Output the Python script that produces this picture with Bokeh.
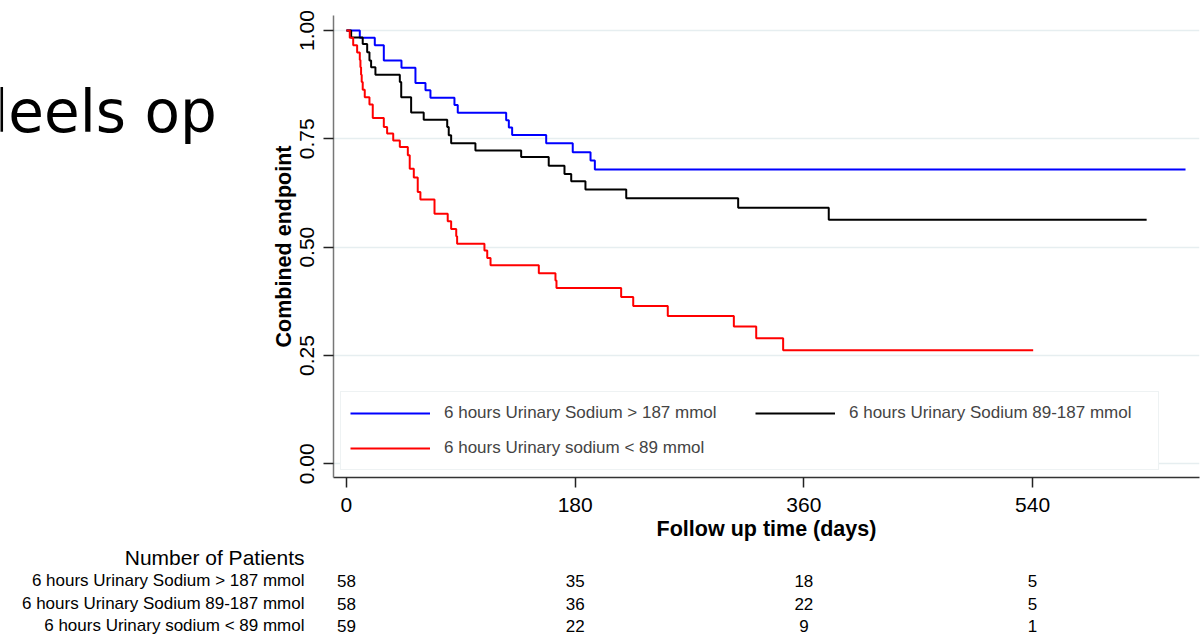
from bokeh.plotting import figure
from bokeh.layouts import column, row
from bokeh.models import (Range1d, FixedTicker, PrintfTickFormatter, Legend, LegendItem,
                          Label)
from bokeh.embed import file_html
from bokeh.resources import INLINE
from bokeh.core.properties import value

FONT = "Liberation Sans"

# Kaplan-Meier step data (days, survival)
blue_t = [0, 10.5, 22.3, 29.4, 43.3, 54.3, 62.2, 66.1, 85.0, 87.6, 125.7, 127.8, 130.4,
          157.2, 178.1, 192.1, 195.5, 660.4]
blue_s = [1.0, 0.983, 0.966, 0.931, 0.914, 0.879, 0.862, 0.845, 0.828, 0.810, 0.793, 0.776,
          0.759, 0.740, 0.719, 0.700, 0.679, 0.679]

black_t = [0, 3.7, 12.8, 16.3, 18.1, 19.4, 22.8, 42.0, 43.1, 50.9, 60.8, 79.3, 80.5, 82.4,
           101.5, 137.5, 159.2, 171.6, 176.9, 188.1, 220.2, 308.3, 379.6, 629.8]
black_s = [1.0, 0.984, 0.969, 0.950, 0.931, 0.915, 0.898, 0.881, 0.846, 0.811, 0.794, 0.777,
           0.758, 0.740, 0.723, 0.708, 0.688, 0.669, 0.652, 0.633, 0.613, 0.591, 0.563, 0.563]

red_t = [0, 2.6, 5.3, 8.4, 10.5, 11.0, 11.5, 12.0, 12.8, 14.4, 18.1, 20.7, 29.4, 32.0, 36.8,
         42.0, 48.3, 49.8, 53.0, 56.1, 58.2, 69.3, 79.7, 82.4, 86.4, 87.1, 108.6, 110.8,
         113.4, 151.4, 164.5, 165.3, 216.2, 225.7, 252.9, 304.9, 322.5, 343.7, 540.5]
red_s = [1.0, 0.983, 0.966, 0.949, 0.932, 0.915, 0.898, 0.881, 0.863, 0.846, 0.829, 0.798,
         0.777, 0.762, 0.746, 0.731, 0.712, 0.681, 0.661, 0.627, 0.610, 0.577, 0.560, 0.542,
         0.525, 0.508, 0.492, 0.475, 0.458, 0.440, 0.423, 0.406, 0.385, 0.364, 0.341, 0.317,
         0.290, 0.262, 0.262]

group_labels = ["6 hours Urinary Sodium > 187 mmol",
                "6 hours Urinary Sodium 89-187 mmol",
                "6 hours Urinary sodium < 89 mmol"]
table_title = "Number of Patients"
x_ticks = [0, 180, 360, 540]
y_ticks = [0.0, 0.25, 0.5, 0.75, 1.0]
n_blue = [58, 35, 18, 5]
n_black = [58, 36, 22, 5]
n_red = [59, 22, 9, 1]

# ---- layout geometry (pixels) ----
W, H = 1203, 636
LEFT_W = 230          # left strip with slide text
TOP_H = 545           # height of chart row
FRAME_L, FRAME_R = 333, 1199
FRAME_T, FRAME_B = 15, 477
X0, X1 = -10.2, 671.4
Y0, Y1 = -0.0316, 1.0346

# ---- left strip: slide text ----
left = figure(width=LEFT_W, height=TOP_H, output_backend="svg", toolbar_location=None,
              x_axis_location=None, y_axis_location=None,
              x_range=Range1d(0, LEFT_W), y_range=Range1d(0, TOP_H),
              min_border=0)
left.outline_line_color = None
left.grid.visible = False
left.add_layout(Label(x=-29, y=TOP_H - 179, x_units="screen", y_units="screen",
                      text="deels op", text_align="left", text_baseline="alphabetic",
                      text_font="DejaVu Sans", text_font_size="58px", text_color="black"))

# ---- main chart ----
p = figure(width=W - LEFT_W, height=TOP_H, output_backend="svg", toolbar_location=None,
           x_range=Range1d(X0, X1), y_range=Range1d(Y0, Y1),
           min_border_left=FRAME_L - LEFT_W, min_border_right=W - FRAME_R,
           min_border_top=FRAME_T, min_border_bottom=TOP_H - FRAME_B)
p.outline_line_color = None

r_blue = p.step(blue_t, blue_s, mode="after", line_color="#0000ff", line_width=2)
r_black = p.step(black_t, black_s, mode="after", line_color="#000000", line_width=2)
r_red = p.step(red_t, red_s, mode="after", line_color="#ff0000", line_width=2)

p.xgrid.visible = False
p.ygrid.ticker = FixedTicker(ticks=y_ticks)
p.ygrid.grid_line_color = "#e6eef0"
p.ygrid.grid_line_width = 1.5

p.xaxis.ticker = FixedTicker(ticks=x_ticks)
p.yaxis.ticker = FixedTicker(ticks=y_ticks)
p.yaxis.formatter = PrintfTickFormatter(format="%.2f")
p.yaxis.major_label_orientation = "vertical"
for ax in (p.xaxis[0], p.yaxis[0]):
    ax.minor_tick_line_color = None
    ax.major_tick_in = 0
    ax.major_tick_out = 10
    ax.major_tick_line_color = "#222222"
    ax.major_tick_line_width = 1.5
    ax.major_label_text_font = FONT
    ax.major_label_text_font_size = "21px"
    ax.major_label_text_color = "black"
    ax.axis_label_text_font = FONT
    ax.axis_label_text_font_size = "21.5px"
    ax.axis_label_text_font_style = "bold"
    ax.axis_label_text_color = "black"
p.xaxis.major_label_standoff = 10
p.xaxis.axis_label_standoff = 2
p.yaxis.major_label_standoff = 9
p.yaxis.axis_label_standoff = 2
p.xaxis.axis_line_color = "#333333"
p.yaxis.axis_line_color = "#777777"
p.xaxis.axis_line_width = 1.5
p.yaxis.axis_line_width = 1.5
p.xaxis.axis_label = "Follow up time (days)"
p.yaxis.axis_label = "Combined endpoint"

legend = Legend(items=[LegendItem(label=group_labels[0], renderers=[r_blue]),
                       LegendItem(label=group_labels[1], renderers=[r_black]),
                       LegendItem(label=group_labels[2], renderers=[r_red])],
                location=(7, 7), orientation="horizontal", ncols=2,
                glyph_width=80, glyph_height=24, label_height=24, label_width=300,
                label_standoff=14, spacing=11, padding=9, margin=0,
                border_line_color="#dde6e8", border_line_width=1.5,
                background_fill_color="white", background_fill_alpha=1.0,
                label_text_font=FONT, label_text_font_size="17px")
p.add_layout(legend)

# ---- number-at-risk table (shares the chart's day scale) ----
TAB_H = H - TOP_H
px_per_day = (FRAME_R - FRAME_L) / (X1 - X0)
tab_x0 = X0 - FRAME_L / px_per_day
tab_x1 = X1 + (W - FRAME_R) / px_per_day
t = figure(width=W, height=TAB_H, output_backend="svg", toolbar_location=None,
           x_axis_location=None, y_axis_location=None,
           x_range=Range1d(tab_x0, tab_x1), y_range=Range1d(TAB_H, 0),
           min_border=0)
t.outline_line_color = None
t.grid.visible = False

row_y = [35, 58, 80]          # row centres, px from top of table strip
label_right = 304             # right edge of row labels, px from left
lab_x = tab_x0 + label_right / px_per_day

tx, ty, tt = [], [], []
for yy, counts in zip(row_y, [n_blue, n_black, n_red]):
    for d, c in zip(x_ticks, counts):
        tx.append(d)
        ty.append(yy)
        tt.append(str(c))
t.text(x=tx, y=ty, text=tt, text_align="center", text_baseline="middle",
       text_font=value(FONT), text_font_size="17px", text_color="black")
t.text(x=[lab_x] * 3, y=row_y, text=group_labels, text_align="right",
       text_baseline="middle", text_font=value(FONT), text_font_size="17px",
       text_color="black")
t.text(x=[lab_x], y=[12], text=[table_title], text_align="right",
       text_baseline="middle", text_font=value(FONT), text_font_size="21px",
       text_color="black")

layout = column(row(left, p, spacing=0), t, spacing=0)
open("out.html", "w").write(file_html(layout, INLINE))
